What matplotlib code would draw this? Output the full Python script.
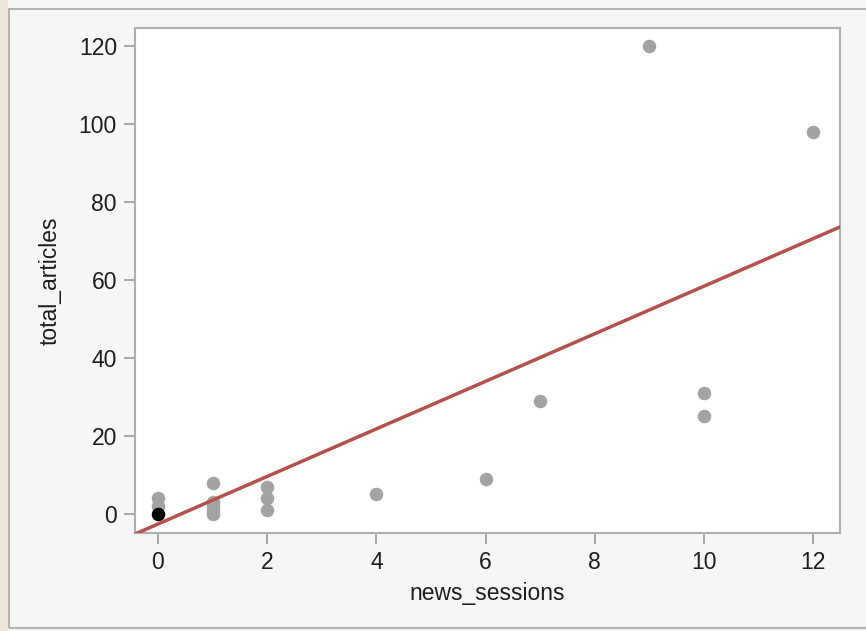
import matplotlib.pyplot as plt
import numpy as np
from matplotlib.patches import Rectangle

plt.rcParams['font.family'] = ['Liberation Sans', 'DejaVu Sans']

# observed sessions / articles
news_sessions = [0, 0, 1, 1, 1, 1, 1, 2, 2, 2, 4, 6, 7, 9, 10, 10, 12]
total_articles = [4, 2, 8, 3, 2, 1, 0, 7, 4, 1, 5, 9, 29, 120, 31, 25, 98]
# highlighted point
sel_x = [0]
sel_y = [0]

# fitted line: slope, intercept
fit = [6.1, -2.6]

fig = plt.figure(figsize=(8.66, 6.31), dpi=100)
fig.patch.set_facecolor('#f6f6f6')
fig.patches.append(Rectangle((0, 0), 8 / 866, 1, transform=fig.transFigure,
                             facecolor='#ece8dc', edgecolor='none', zorder=0))
fig.patches.append(Rectangle((9 / 866, 3 / 631), 1, 1 - 12 / 631,
                             transform=fig.transFigure, facecolor='none',
                             edgecolor='#b4b4b4', linewidth=1.5, zorder=1))

ax = fig.add_axes([135 / 866, 98 / 631, 705 / 866, 505 / 631])
ax.set_facecolor('white')

ax.scatter(news_sessions, total_articles, s=95, color='#a3a3a3', zorder=2,
           linewidths=0)
ax.scatter(sel_x, sel_y, s=95, color='black', zorder=3, linewidths=0)

xl = np.array([-0.42, 12.49])
ax.plot(xl, fit[0] * xl + fit[1], color='#b5504c', linewidth=2.5, zorder=4)

ax.set_xlim(-0.42, 12.49)
ax.set_ylim(-4.9, 124.6)
ax.set_xticks(range(0, 13, 2))
ax.set_yticks(range(0, 121, 20))

for s in ax.spines.values():
    s.set_color('#b0b0b0')
    s.set_linewidth(1.5)
ax.tick_params(direction='out', length=8, width=1.3, color='#a0a0a0',
               labelsize=16.5, labelcolor='#1e1e1e', pad=5)

ax.set_xlabel('news_sessions', fontsize=16.5, color='#1e1e1e', labelpad=6)
ax.set_ylabel('total_articles', fontsize=16.5, color='#1e1e1e', labelpad=12)

fig.savefig('out.png', dpi=100, facecolor=fig.get_facecolor())
